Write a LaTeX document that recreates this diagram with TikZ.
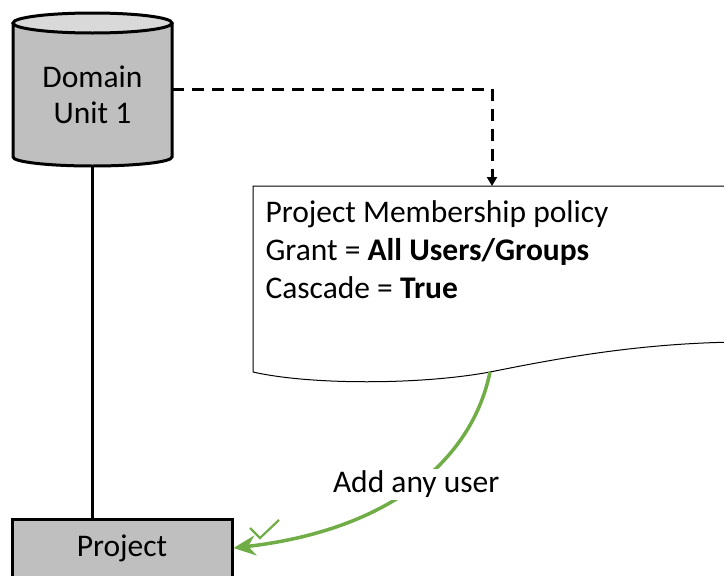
\documentclass[tikz,border=0pt]{standalone}
\usepackage{fontspec}
\setmainfont{Carlito}
\usepackage{xcolor}
\usepackage{tikz}
\usetikzlibrary{positioning}
\usetikzlibrary{calc}
\usetikzlibrary{arrows.meta}

\definecolor{boxgray}{RGB}{191,191,191}
\definecolor{topgray}{RGB}{217,217,217}
\definecolor{okgreen}{RGB}{112,173,71}

\begin{document}
\begin{tikzpicture}
  [
    x=1pt, y=-1pt,
    big/.style={font=\fontsize{31.5}{38}\selectfont},
    probox/.style={draw=black, fill=boxgray, line width=3pt,
      minimum width=220pt, minimum height=58pt, big},
    ld/.style={draw=black, line width=3pt, dash pattern=on 12pt off 8pt,
      -{Triangle[length=9pt,width=10pt]}},
    gd/.style={draw=okgreen, line width=3.5pt,
      -{Stealth[length=22pt,width=20pt]}}
  ]
  \useasboundingbox (0,0) rectangle (724,576);
  \clip (0,0) rectangle (724,576);

  % domain unit cylinder
  \path[fill=boxgray, draw=black, line width=3pt]
    (13,23) -- (13,157) arc[start angle=180, end angle=0,
      x radius=79.5, y radius=9] -- (172,23);
  \draw[fill=topgray, line width=3pt] (92.5,23) ellipse[x radius=79.5, y radius=10];
  \node (du) at (92.5,89) [minimum width=159pt, minimum height=152pt,
    inner sep=0pt, align=center, big] {};
  \node (dutext) at (92.5,95) [align=center, big] {Domain\\[-2pt]Unit 1};

  % project
  \node (proj) at (122,548) [probox] {Project};

  % policy document
  \draw[line width=1pt, fill=white]
    (253,186) -- (740,186) -- (740,342)
    .. controls (640,343) and (560,358) .. (490,372)
    .. controls (420,385) and (310,385) .. (253,372) -- cycle;
  \node (pol) at (262,197) [anchor=north west, align=left, big]
    {Project Membership policy\\
     Grant = \textbf{All Users/Groups}\\
     Cascade = \textbf{True}};
  \coordinate (polin) at (492,186);
  \coordinate (polout) at (490,372);

  \draw [line width=3pt] (du.south) -- (du.south |- proj.north);

  \draw [ld] (du.east) -| (polin);

  \draw [gd] (polout) .. controls (472,460) and (390,530) ..
    node [fill=white, inner sep=2pt, big, pos=0.49] (lab) {Add any user}
    (proj.east);

  % check mark
  \draw [okgreen, line width=2.2pt] (250,528) -- (260,538) -- (279,520);
\end{tikzpicture}
\end{document}
